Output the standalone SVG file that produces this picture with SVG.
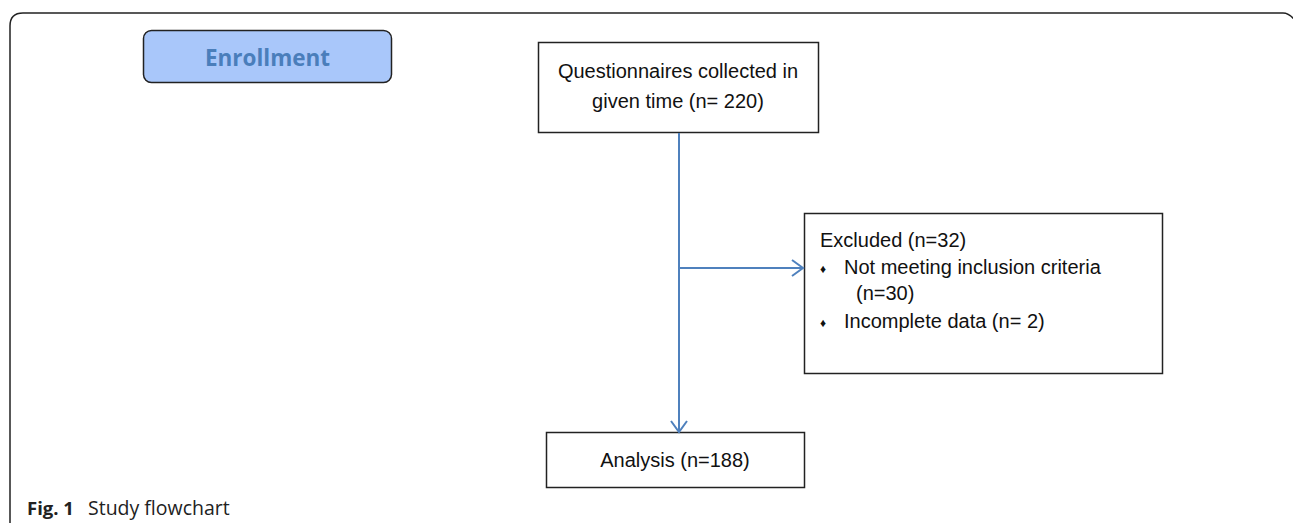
<svg xmlns="http://www.w3.org/2000/svg" width="1293" height="523" viewBox="0 0 1293 523">
<style>
.box{fill:#fff;stroke:#222;stroke-width:1.5}
.t{font-family:"Liberation Sans",Arial,sans-serif;font-size:20px;fill:#111}
.b{font-size:12px}
.c{text-anchor:middle}
.conn{stroke:#4f81bd;stroke-width:2;fill:none}
.cap{font-family:"Open Sans","Noto Sans",sans-serif;font-size:19.5px;fill:#222}
</style>
<defs>
<marker id="arr" markerWidth="14" markerHeight="20" refX="12" refY="10" orient="auto" markerUnits="userSpaceOnUse">
<path d="M1 2 L12 10 L1 18" fill="none" stroke="#4f81bd" stroke-width="2"/>
</marker>
</defs>
<path d="M10 523 V26 Q10 13 23 13 H1283 Q1290 13 1296 22" fill="none" stroke="#222" stroke-width="1.5"/>
<g id="enrollment">
<rect x="143.5" y="30.5" width="248" height="52" rx="8" fill="#a9c7fa" stroke="#222" stroke-width="1.5"/>
<text x="267.5" y="66" text-anchor="middle" font-family="'Open Sans','Noto Sans',sans-serif" font-weight="bold" font-size="22.5" fill="#4a7ebb">Enrollment</text>
</g>
<g id="collected">
<rect class="box" x="538.5" y="42.5" width="280" height="90"/>
<text class="t c" x="678" y="78">Questionnaires collected in</text>
<text class="t c" x="678" y="108">given time (n= 220)</text>
</g>
<g id="excluded">
<rect class="box" x="804.5" y="213.5" width="358" height="160"/>
<text class="t" x="820" y="247">Excluded (n=32)</text>
<text class="t b" x="820" y="273">♦</text>
<text class="t" x="844" y="274">Not meeting inclusion criteria</text>
<text class="t" x="856" y="300">(n=30)</text>
<text class="t b" x="820" y="327">♦</text>
<text class="t" x="844" y="328">Incomplete data (n= 2)</text>
</g>
<g id="analysis">
<rect class="box" x="546.5" y="432.5" width="258" height="55"/>
<text class="t c" x="675" y="467">Analysis (n=188)</text>
</g>
<g id="connectors">
<line class="conn" x1="679" y1="133" x2="679" y2="432" marker-end="url(#arr)"/>
<line class="conn" x1="679" y1="268" x2="803" y2="268" marker-end="url(#arr)"/>
</g>
<text class="cap" x="27" y="515" font-weight="bold" style="font-size:18.5px">Fig. 1</text>
<text class="cap" x="88" y="515">Study flowchart</text>
</svg>
